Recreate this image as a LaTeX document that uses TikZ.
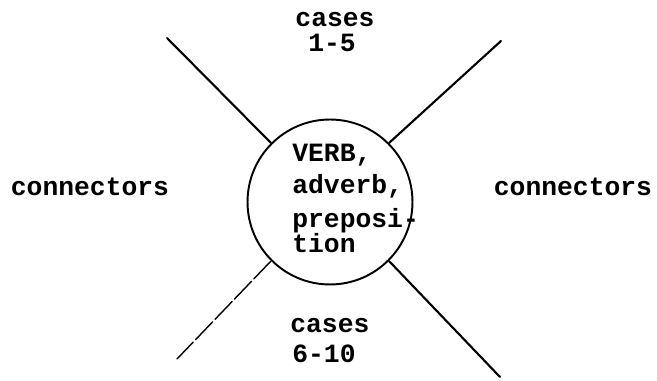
\documentclass[tikz,border=0pt]{standalone}
\usepackage{fontspec}
\setmonofont{Liberation Mono}
\usetikzlibrary{positioning}

\tikzset{
    word/.style={font=\ttfamily\bfseries\fontsize{15}{18}\selectfont, inner sep=0pt, anchor=base},
    spoke/.style={line width=1.2pt, line cap=round}
}

\begin{document}
\begin{tikzpicture}[x=0.02cm, y=-0.02cm]
        \useasboundingbox (0,0) rectangle (657,381);

        % the circle in the middle
        \node[draw, circle, line width=1.1pt, minimum size=3.3cm, inner sep=0pt] (hub) at (330,202) {};

        % the texts
        \node[word] (cases1) at (335,27) {cases};
        \node[word] (nums1) at (332,52) {1-5};
        \node[word, anchor=base west] (cases2) at (290,333) {cases};
        \node[word, anchor=base west] (nums2) at (292,363) {6-10};
        \node[word] (conl) at (90,196) {connectors};
        \node[word] (conr) at (573,196) {connectors};

        \node[word, anchor=base west] (verb) at (292,162) {VERB,};
        \node[word, anchor=base west] (adverb) at (292,194) {adverb,};
        \node[word, anchor=base west] (prep) at (292,228) {preposi-};
        \node[word, anchor=base west] (tion) at (292,253) {tion};

        % the free ends of the spokes
        \coordinate (tl) at (167,38);
        \coordinate (tr) at (501,41);
        \coordinate (bl) at (177,359);
        \coordinate (br) at (500,377);

        % draw the spokes
        \draw[spoke] (hub.135) -- (tl);
        \draw[spoke] (hub.45) -- (tr);
        \draw[spoke, line width=0.8pt, dash pattern=on 14pt off 2pt] (hub.-135) -- (bl);
        \draw[spoke] (hub.-45) -- (br);
    \end{tikzpicture}
\end{document}
